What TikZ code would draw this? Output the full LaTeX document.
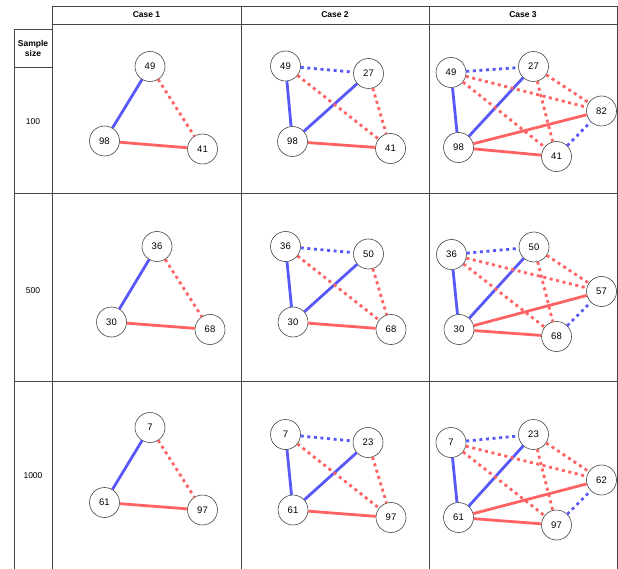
\documentclass[tikz,border=0pt]{standalone}
\usepackage{fontspec}
\setmainfont{Liberation Sans}
\definecolor{eblue}{RGB}{88,88,250}
\definecolor{ered}{RGB}{255,98,98}
\definecolor{gridc}{RGB}{70,70,70}
\tikzset{
  vnode/.style={circle,draw=gridc,line width=0.6pt,fill=white,minimum size=30pt,inner sep=0pt,font=\fontsize{9.5}{11}\selectfont},
  bsolid/.style={draw=eblue,line width=2.8pt},
  rsolid/.style={draw=ered,line width=2.8pt},
  bdot/.style={draw=eblue,line width=2.8pt,dash pattern=on 3pt off 3.6pt},
  rdot/.style={draw=ered,line width=2.8pt,dash pattern=on 3pt off 3.6pt},
  gridline/.style={draw=gridc,line width=0.8pt},
  hdr/.style={font=\fontsize{8.5}{10}\selectfont\bfseries,align=center},
  rowlab/.style={font=\fontsize{8.5}{10}\selectfont}
}
\begin{document}
\begin{tikzpicture}[x=1pt,y=-1pt]
\useasboundingbox[fill=white] (0,0) rectangle (618,569);
% grid
\draw[gridline] (52,6) rectangle (617,24);
\draw[gridline] (52,24) -- (52,569);
\draw[gridline] (241,6) -- (241,569);
\draw[gridline] (429,6) -- (429,569);
\draw[gridline] (617,24) -- (617,569);
\draw[gridline] (14,569) -- (14,29) -- (52,29);
\draw[gridline] (14,67) -- (52,67);
\draw[gridline] (14,193) -- (617,193);
\draw[gridline] (14,381) -- (617,381);
% headers
\node[hdr] (h1) at (146.5,15) {Case 1};
\node[hdr] (h2) at (335,15) {Case 2};
\node[hdr] (h3) at (523,15) {Case 3};
\node[hdr] (hs) at (33,48) {Sample\\size};
\node[rowlab] (l1) at (33,122) {100};
\node[rowlab] (l2) at (33,291) {500};
\node[rowlab] (l3) at (33,476) {1000};
% ---------- Row 1 ----------
\node[vnode] (a11) at (150,66.5) {49};
\node[vnode] (a12) at (104.5,141) {98};
\node[vnode] (a13) at (202.5,149) {41};
\draw[bsolid] (a11) -- (a12);
\draw[rsolid] (a12) -- (a13);
\draw[rdot] (a11) -- (a13);
\node[vnode] (b11) at (285.5,66) {49};
\node[vnode] (b12) at (368.5,73.5) {27};
\node[vnode] (b13) at (292.5,141.5) {98};
\node[vnode] (b14) at (390.5,148.5) {41};
\draw[bdot] (b11) -- (b12);
\draw[bsolid] (b11) -- (b13);
\draw[bsolid] (b12) -- (b13);
\draw[rdot] (b11) -- (b14);
\draw[rdot] (b12) -- (b14);
\draw[rsolid] (b13) -- (b14);
\node[vnode] (c11) at (451,72.5) {49};
\node[vnode] (c12) at (533.5,66.5) {27};
\node[vnode] (c13) at (601.5,111) {82};
\node[vnode] (c14) at (458.5,147.5) {98};
\node[vnode] (c15) at (556.5,156.5) {41};
\draw[bdot] (c11) -- (c12);
\draw[bsolid] (c11) -- (c14);
\draw[bsolid] (c12) -- (c14);
\draw[rdot] (c11) -- (c13);
\draw[rdot] (c11) -- (c15);
\draw[rdot] (c12) -- (c13);
\draw[rdot] (c12) -- (c15);
\draw[rsolid] (c14) -- (c13);
\draw[rsolid] (c14) -- (c15);
\draw[bdot] (c15) -- (c13);
% ---------- Row 2 ----------
\node[vnode] (a21) at (157,246.5) {36};
\node[vnode] (a22) at (111.5,322) {30};
\node[vnode] (a23) at (210,329.5) {68};
\draw[bsolid] (a21) -- (a22);
\draw[rsolid] (a22) -- (a23);
\draw[rdot] (a21) -- (a23);
\node[vnode] (b21) at (285.5,246.5) {36};
\node[vnode] (b22) at (368.5,254) {50};
\node[vnode] (b23) at (293,322) {30};
\node[vnode] (b24) at (391,329.5) {68};
\draw[bdot] (b21) -- (b22);
\draw[bsolid] (b21) -- (b23);
\draw[bsolid] (b22) -- (b23);
\draw[rdot] (b21) -- (b24);
\draw[rdot] (b22) -- (b24);
\draw[rsolid] (b23) -- (b24);
\node[vnode] (c21) at (451.5,254.5) {36};
\node[vnode] (c22) at (534,247) {50};
\node[vnode] (c23) at (601.5,291.5) {57};
\node[vnode] (c24) at (459,329.5) {30};
\node[vnode] (c25) at (556.5,336.5) {68};
\draw[bdot] (c21) -- (c22);
\draw[bsolid] (c21) -- (c24);
\draw[bsolid] (c22) -- (c24);
\draw[rdot] (c21) -- (c23);
\draw[rdot] (c21) -- (c25);
\draw[rdot] (c22) -- (c23);
\draw[rdot] (c22) -- (c25);
\draw[rsolid] (c24) -- (c23);
\draw[rsolid] (c24) -- (c25);
\draw[bdot] (c25) -- (c23);
% ---------- Row 3 ----------
\node[vnode] (a31) at (150,427.5) {7};
\node[vnode] (a32) at (104.5,502.5) {61};
\node[vnode] (a33) at (202.5,510) {97};
\draw[bsolid] (a31) -- (a32);
\draw[rsolid] (a32) -- (a33);
\draw[rdot] (a31) -- (a33);
\node[vnode] (b31) at (285.5,434.5) {7};
\node[vnode] (b32) at (368,442.5) {23};
\node[vnode] (b33) at (293,510) {61};
\node[vnode] (b34) at (391,517.5) {97};
\draw[bdot] (b31) -- (b32);
\draw[bsolid] (b31) -- (b33);
\draw[bsolid] (b32) -- (b33);
\draw[rdot] (b31) -- (b34);
\draw[rdot] (b32) -- (b34);
\draw[rsolid] (b33) -- (b34);
\node[vnode] (c31) at (451,442.5) {7};
\node[vnode] (c32) at (533.5,434.5) {23};
\node[vnode] (c33) at (601.5,480) {62};
\node[vnode] (c34) at (458.5,517.5) {61};
\node[vnode] (c35) at (556.5,525) {97};
\draw[bdot] (c31) -- (c32);
\draw[bsolid] (c31) -- (c34);
\draw[bsolid] (c32) -- (c34);
\draw[rdot] (c31) -- (c33);
\draw[rdot] (c31) -- (c35);
\draw[rdot] (c32) -- (c33);
\draw[rdot] (c32) -- (c35);
\draw[rsolid] (c34) -- (c33);
\draw[rsolid] (c34) -- (c35);
\draw[bdot] (c35) -- (c33);
\end{tikzpicture}
\end{document}
